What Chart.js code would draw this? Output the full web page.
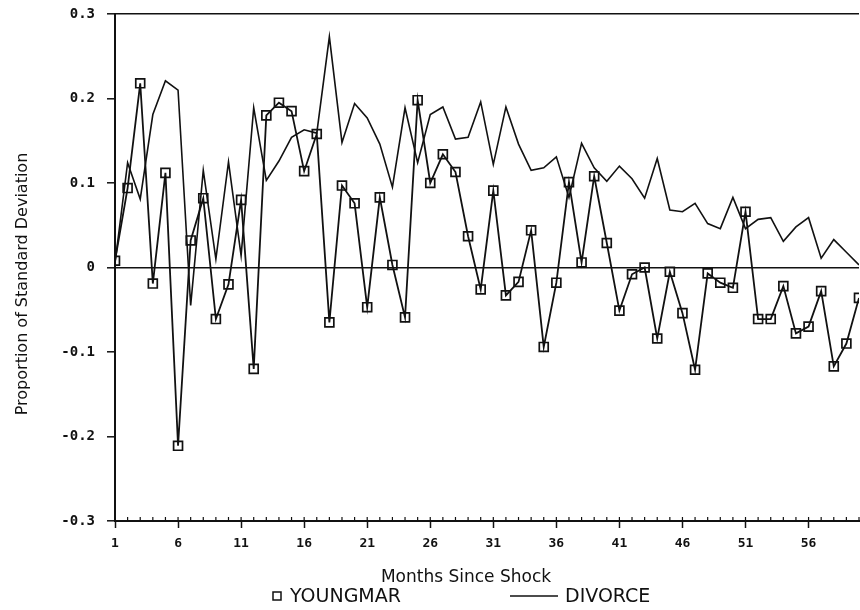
<!DOCTYPE html>
<html>
<head>
<meta charset="utf-8">
<script src="https://cdn.jsdelivr.net/npm/chart.js@4.4.0/dist/chart.umd.min.js"></script>
<style>
  body { margin: 0; background: #fff; }
  canvas { display: block; }
</style>
</head>
<body>
<canvas id="chart" width="860" height="610"></canvas>
<script>
// months since shock
const months = [
  1, 2, 3, 4, 5, 6, 7, 8, 9, 10, 11, 12, 13, 14, 15, 16, 17, 18, 19, 20,
  21, 22, 23, 24, 25, 26, 27, 28, 29, 30, 31, 32, 33, 34, 35, 36, 37, 38, 39, 40,
  41, 42, 43, 44, 45, 46, 47, 48, 49, 50, 51, 52, 53, 54, 55, 56, 57, 58, 59, 60
]

const youngmar = [
  0.008, 0.094, 0.218, -0.019, 0.112, -0.211, 0.032, 0.082, -0.061, -0.020,
  0.080, -0.120, 0.180, 0.195, 0.185, 0.114, 0.158, -0.065, 0.097, 0.076,
  -0.047, 0.083, 0.003, -0.059, 0.198, 0.100, 0.134, 0.113, 0.037, -0.026,
  0.091, -0.033, -0.017, 0.044, -0.094, -0.018, 0.101, 0.006, 0.108, 0.029,
  -0.051, -0.008, 0.000, -0.084, -0.005, -0.054, -0.121, -0.007, -0.018, -0.024,
  0.066, -0.061, -0.061, -0.022, -0.078, -0.070, -0.028, -0.117, -0.090, -0.036
]

const divorce = [
  0.005, 0.124, 0.081, 0.181, 0.221, 0.210, -0.045, 0.115, 0.010, 0.125,
  0.014, 0.189, 0.103, 0.126, 0.154, 0.163, 0.159, 0.273, 0.148, 0.194,
  0.177, 0.146, 0.095, 0.189, 0.124, 0.181, 0.190, 0.152, 0.154, 0.196,
  0.122, 0.190, 0.146, 0.115, 0.118, 0.131, 0.083, 0.147, 0.118, 0.102,
  0.120, 0.105, 0.082, 0.129, 0.068, 0.066, 0.076, 0.052, 0.046, 0.083,
  0.046, 0.057, 0.059, 0.031, 0.048, 0.059, 0.011, 0.033, 0.018, 0.003
]

const xTickLabels = [1, 6, 11, 16, 21, 26, 31, 36, 41, 46, 51, 56]
const yTicks = [-0.3, -0.2, -0.1, 0, 0.1, 0.2, 0.3]

const xTitle = 'Months Since Shock'
const yTitle = 'Proportion of Standard Deviation'
const seriesNames = ['YOUNGMAR', 'DIVORCE']

const ink = '#111'
const near = (a, b) => Math.abs(a - b) < 1e-6

// titles, legend and the small month ticks along the bottom axis
const extras = {
  id: 'extras',
  afterDraw(chart) {
    const ctx = chart.ctx
    const xs = chart.scales.x
    const area = chart.chartArea
    ctx.save()
    ctx.strokeStyle = ink
    ctx.lineWidth = 1.2
    months.forEach(m => {
      const px = xs.getPixelForValue(m)
      ctx.beginPath()
      ctx.moveTo(px, area.bottom)
      ctx.lineTo(px, area.bottom - 4)
      ctx.stroke()
    })

    ctx.fillStyle = ink
    ctx.textAlign = 'center'
    ctx.textBaseline = 'alphabetic'
    ctx.font = '17px "DejaVu Sans"'
    ctx.fillText(xTitle, 466, 582)

    ctx.save()
    ctx.translate(23, 284)
    ctx.rotate(-Math.PI / 2)
    ctx.font = '16px "DejaVu Sans"'
    ctx.textBaseline = 'middle'
    ctx.fillText(yTitle, 0, 0)
    ctx.restore()

    // legend
    ctx.textAlign = 'left'
    ctx.font = '19px "DejaVu Sans"'
    ctx.lineWidth = 1.5
    ctx.strokeRect(273, 592, 8, 8)
    ctx.fillText(seriesNames[0], 290, 602)
    ctx.beginPath()
    ctx.moveTo(510, 596)
    ctx.lineTo(558, 596)
    ctx.stroke()
    ctx.fillText(seriesNames[1], 565, 602)
    ctx.restore()
  }
}

new Chart(document.getElementById('chart'), {
  type: 'line',
  data: {
    datasets: [
      {
        label: seriesNames[0],
        data: months.map((m, i) => ({ x: m, y: youngmar[i] })),
        borderColor: ink,
        borderWidth: 1.8,
        tension: 0,
        pointStyle: 'rect',
        pointRadius: 6.3,
        pointBorderWidth: 1.7,
        pointBorderColor: ink,
        pointBackgroundColor: 'rgba(0,0,0,0)'
      },
      {
        label: seriesNames[1],
        data: months.map((m, i) => ({ x: m, y: divorce[i] })),
        borderColor: ink,
        borderWidth: 1.6,
        tension: 0,
        pointRadius: 0
      }
    ]
  },
  options: {
    responsive: false,
    animation: false,
    layout: { autoPadding: false, padding: { left: 0, top: 14, right: 1, bottom: 59 } },
    plugins: {
      legend: { display: false },
      tooltip: { enabled: false }
    },
    scales: {
      x: {
        type: 'linear',
        min: 1,
        max: 60,
        afterFit: s => {
          s.height = 30
          s.paddingLeft = 0
          s.paddingRight = 0
        },
        border: { color: ink, width: 2 },
        grid: {
          drawOnChartArea: false,
          tickLength: 7,
          tickWidth: 1.5,
          tickColor: c => xTickLabels.includes(c.tick.value) ? ink : 'rgba(0,0,0,0)'
        },
        ticks: {
          stepSize: 1,
          autoSkip: false,
          maxRotation: 0,
          padding: 8,
          color: ink,
          font: { family: '"DejaVu Sans Mono"', size: 13, weight: 'bold' },
          callback: v => xTickLabels.includes(v) ? String(v) : ''
        }
      },
      y: {
        min: yTicks[0],
        max: yTicks[yTicks.length - 1],
        afterFit: s => {
          s.width = 115
          s.paddingTop = 0
          s.paddingBottom = 0
        },
        border: { color: ink, width: 2 },
        grid: {
          color: c => (near(c.tick.value, 0) || near(c.tick.value, 0.3)) ? ink : 'rgba(0,0,0,0)',
          lineWidth: 1.6,
          tickLength: 8,
          tickWidth: 1.5,
          tickColor: ink
        },
        ticks: {
          stepSize: 0.1,
          padding: 12,
          color: ink,
          font: { family: '"DejaVu Sans Mono"', size: 14, weight: 'bold' },
          callback: v => near(v, 0) ? '0' : v.toFixed(1)
        }
      }
    }
  },
  plugins: [extras]
})
</script>
</body>
</html>
